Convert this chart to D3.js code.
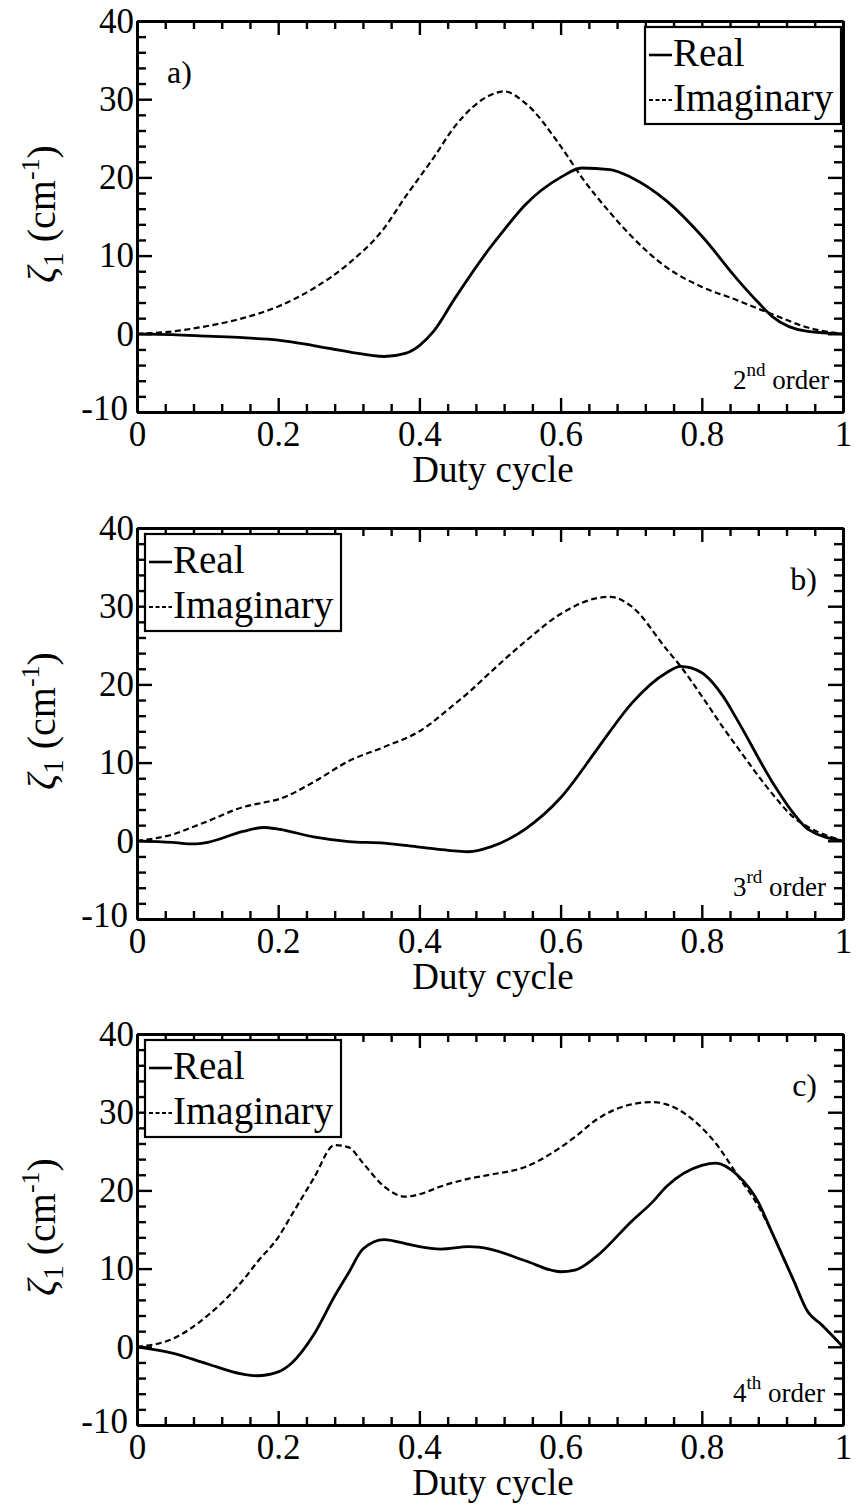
<!DOCTYPE html>
<html>
<head>
<meta charset="utf-8">
<script src="https://cdn.jsdelivr.net/npm/d3@7"></script>
<style>
  body { margin: 0; background: #fff; }
  svg { display: block; }
  svg text { font-family: "Liberation Serif", "Times New Roman", Times, "DejaVu Serif", serif; fill: #000; }
</style>
</head>
<body>
<svg id="fig" width="856" height="1505"></svg>
<script>
// Tick values
const xMajorTicks = [0, 0.2, 0.4, 0.6, 0.8, 1];
const xMinorTicks = [0.04, 0.08, 0.12, 0.16, 0.24, 0.28, 0.32, 0.36, 0.44, 0.48, 0.52, 0.56,
                     0.64, 0.68, 0.72, 0.76, 0.84, 0.88, 0.92, 0.96];
const yMajorTicks = [-10, 0, 10, 20, 30, 40];
const yMinorTicks = [-8, -6, -4, -2, 2, 4, 6, 8, 12, 14, 16, 18, 22, 24, 26, 28, 32, 34, 36, 38];

// Labels
const panelTags = ["a)", "b)", "c)"];
const orderNumbers = ["2", "3", "4"];
const orderSuffixes = ["nd", "rd", "th"];
const seriesNames = ["Real", "Imaginary"];

// a) 2nd order coupling coefficient
const aDuty = [0, 0.05, 0.1, 0.15, 0.2, 0.25, 0.3, 0.35, 0.38, 0.4, 0.42, 0.45, 0.5, 0.52, 0.55,
               0.6, 0.63, 0.67, 0.7, 0.75, 0.8, 0.85, 0.88, 0.9, 0.95, 1];
const aReal = [0, -0.1, -0.3, -0.5, -0.8, -1.5, -2.3, -2.9, -2.5, -1.5, 0.3, 4.5, 11, 13.3, 16.5,
               20, 21.2, 21, 20, 17, 12.5, 7, 4, 2.2, 0.3, 0];
const aImag = [0, 0.3, 1, 2, 3.5, 5.8, 9, 13.5, 17.5, 20, 22.5, 26.5, 30.5, 31, 29.5,
               24, 20, 15.5, 12.5, 8.5, 6, 4.3, 3.2, 2.5, 0.8, 0];

// b) 3rd order coupling coefficient
const bDuty = [0, 0.05, 0.08, 0.1, 0.15, 0.18, 0.2, 0.25, 0.3, 0.35, 0.4, 0.45, 0.47, 0.5, 0.55,
               0.6, 0.65, 0.67, 0.7, 0.75, 0.77, 0.8, 0.83, 0.85, 0.9, 0.93, 0.95, 1];
const bReal = [0, -0.2, -0.4, -0.2, 1.2, 1.7, 1.5, 0.5, -0.1, -0.3, -0.8, -1.3, -1.4, -0.8, 1.5,
               5.5, 11.5, 14, 17.5, 21.5, 22.3, 21.5, 18.5, 15.5, 7.5, 3.5, 1.5, 0];
const bImag = [0, 0.8, 1.8, 2.5, 4.3, 4.9, 5.3, 7.5, 10.2, 12, 14, 17.5, 19, 21.5, 25.5,
               29, 31, 31.2, 30, 24.5, 22.3, 18.5, 14.5, 12, 6, 3, 1.8, 0];

// c) 4th order coupling coefficient
const cDuty = [0, 0.05, 0.1, 0.15, 0.17, 0.2, 0.22, 0.25, 0.28, 0.3, 0.32, 0.35, 0.38, 0.4, 0.43,
               0.47, 0.5, 0.55, 0.6, 0.62, 0.65, 0.7, 0.73, 0.75, 0.8, 0.82, 0.85, 0.88, 0.9,
               0.93, 0.95, 0.97, 1];
const cReal = [0, -0.8, -2.2, -3.5, -3.7, -3.2, -2, 1.5, 6.5, 9.5, 12.5, 13.7, 13.2, 12.8, 12.5,
               12.8, 12.5, 11, 9.6, 9.8, 11.5, 16, 18.5, 20.5, 23.2, 23.5, 22, 18.5, 14.5,
               8.5, 4.5, 2.8, 0];
const cImag = [0, 1, 4, 8.5, 10.8, 14, 17, 21.5, 25.8, 25.5, 23.5, 20.5, 19.2, 19.5, 20.5,
               21.5, 22, 23, 25.5, 26.8, 29, 31, 31.3, 31, 28, 26, 22, 18, 14.5,
               8.5, 4.5, 2.8, 0];

const panels = [
  { duty: aDuty, re: aReal, im: aImag, legendRight: true },
  { duty: bDuty, re: bReal, im: bImag, legendRight: false },
  { duty: cDuty, re: cReal, im: cImag, legendRight: false }
];

const FONT = '"Liberation Serif", "Times New Roman", Times, "DejaVu Serif", serif';
const svg = d3.select("#fig");
const plotLeft = 137, plotRight = 843, plotH = 391;
const panelTops = [21, 528, 1034];
const fmt = d => String(d);

panels.forEach((p, i) => {
  const top = panelTops[i];
  const x = d3.scaleLinear().domain([0, 1]).range([plotLeft, plotRight]);
  const y = d3.scaleLinear().domain([-10, 40]).range([top + plotH, top]);
  const g = svg.append("g").attr("font-family", FONT);

  // curves
  const line = (vals) => d3.line()
    .x((d, k) => x(p.duty[k]))
    .y(d => y(d))
    .curve(d3.curveMonotoneX)(vals);

  g.append("path").attr("d", line(p.im))
    .attr("fill", "none").attr("stroke", "#000")
    .attr("stroke-width", 2.2).attr("stroke-dasharray", "6,3.5");
  g.append("path").attr("d", line(p.re))
    .attr("fill", "none").attr("stroke", "#000")
    .attr("stroke-width", 2.8).attr("stroke-linejoin", "round");

  // axes: major + minor ticks on all four sides, pointing inward
  const styleAxis = sel => {
    sel.attr("font-family", FONT).attr("font-size", 35);
    sel.selectAll(".domain").attr("stroke", "#000").attr("stroke-width", 3);
    sel.selectAll(".tick line").attr("stroke", "#000").attr("stroke-width", 2.4);
    sel.selectAll("text").attr("fill", "#000");
  };
  const bottomY = y(-10), topY = y(40);

  g.append("g").attr("transform", `translate(0,${bottomY})`)
    .call(d3.axisBottom(x).tickValues(xMinorTicks).tickSize(-8).tickSizeOuter(0).tickFormat(""))
    .call(styleAxis);
  g.append("g").attr("transform", `translate(0,${bottomY})`)
    .call(d3.axisBottom(x).tickValues(xMajorTicks).tickSize(-14).tickSizeOuter(0).tickPadding(9).tickFormat(fmt))
    .call(styleAxis);
  g.append("g").attr("transform", `translate(0,${topY})`)
    .call(d3.axisTop(x).tickValues(xMinorTicks).tickSize(-8).tickSizeOuter(0).tickFormat(""))
    .call(styleAxis);
  g.append("g").attr("transform", `translate(0,${topY})`)
    .call(d3.axisTop(x).tickValues(xMajorTicks).tickSize(-14).tickSizeOuter(0).tickFormat(""))
    .call(styleAxis);

  g.append("g").attr("transform", `translate(${plotLeft},0)`)
    .call(d3.axisLeft(y).tickValues(yMinorTicks).tickSize(-9).tickSizeOuter(0).tickFormat(""))
    .call(styleAxis);
  g.append("g").attr("transform", `translate(${plotLeft},0)`)
    .call(d3.axisLeft(y).tickValues(yMajorTicks).tickSize(-15).tickSizeOuter(0).tickPadding(3).tickFormat(fmt))
    .call(styleAxis)
    .call(sel => sel.selectAll(".tick text").filter(d => d === -10).attr("dx", -6).attr("dy", "0.2em"));
  g.append("g").attr("transform", `translate(${plotRight},0)`)
    .call(d3.axisRight(y).tickValues(yMinorTicks).tickSize(-9).tickSizeOuter(0).tickFormat(""))
    .call(styleAxis);
  g.append("g").attr("transform", `translate(${plotRight},0)`)
    .call(d3.axisRight(y).tickValues(yMajorTicks).tickSize(-15).tickSizeOuter(0).tickFormat(""))
    .call(styleAxis);

  // axis titles
  g.append("text")
    .attr("x", 493).attr("y", bottomY + 70)
    .attr("text-anchor", "middle").attr("font-size", 37)
    .text("Duty cycle");

  const yt = g.append("text")
    .attr("transform", `translate(55,${top + 193}) rotate(-90)`)
    .attr("text-anchor", "middle").attr("font-size", 40);
  yt.append("tspan").attr("font-style", "italic").text("\u03B6");
  yt.append("tspan").attr("font-size", 29).attr("dy", 8).text("1");
  yt.append("tspan").attr("dy", -8).text(" (cm");
  yt.append("tspan").attr("font-size", 26).attr("dy", -16).text("-1");
  yt.append("tspan").attr("dy", 16).text(")");

  // panel tag
  if (p.legendRight) {
    g.append("text").attr("x", 167).attr("y", top + 62).attr("font-size", 32).text(panelTags[i]);
  } else {
    g.append("text").attr("x", 817).attr("y", top + 62).attr("text-anchor", "end")
      .attr("font-size", 32).text(panelTags[i]);
  }

  // diffraction order note
  const ot = g.append("text").attr("x", 733).attr("y", top + 368).attr("font-size", 27);
  ot.append("tspan").text(orderNumbers[i]);
  ot.append("tspan").attr("font-size", 19).attr("dy", -13).text(orderSuffixes[i]);
  ot.append("tspan").attr("dy", 13).text(" order");

  // legend
  const lx = p.legendRight ? 645 : 145;
  const lw = 196;
  const lg = g.append("g");
  lg.append("rect").attr("x", lx).attr("y", top + 6).attr("width", lw).attr("height", 97)
    .attr("fill", "#fff").attr("stroke", "#000").attr("stroke-width", 2.2);
  const rows = [
    { name: seriesNames[0], dash: null, w: 2.6, yy: top + 45 },
    { name: seriesNames[1], dash: "4,2.5", w: 2, yy: top + 90 }
  ];
  rows.forEach(r => {
    lg.append("line").attr("x1", lx + 4).attr("x2", lx + 27)
      .attr("y1", r.yy - 11).attr("y2", r.yy - 11)
      .attr("stroke", "#000").attr("stroke-width", r.w)
      .attr("stroke-dasharray", r.dash);
    lg.append("text").attr("x", lx + 28).attr("y", r.yy).attr("font-size", 39).text(r.name);
  });
});
</script>
</body>
</html>
